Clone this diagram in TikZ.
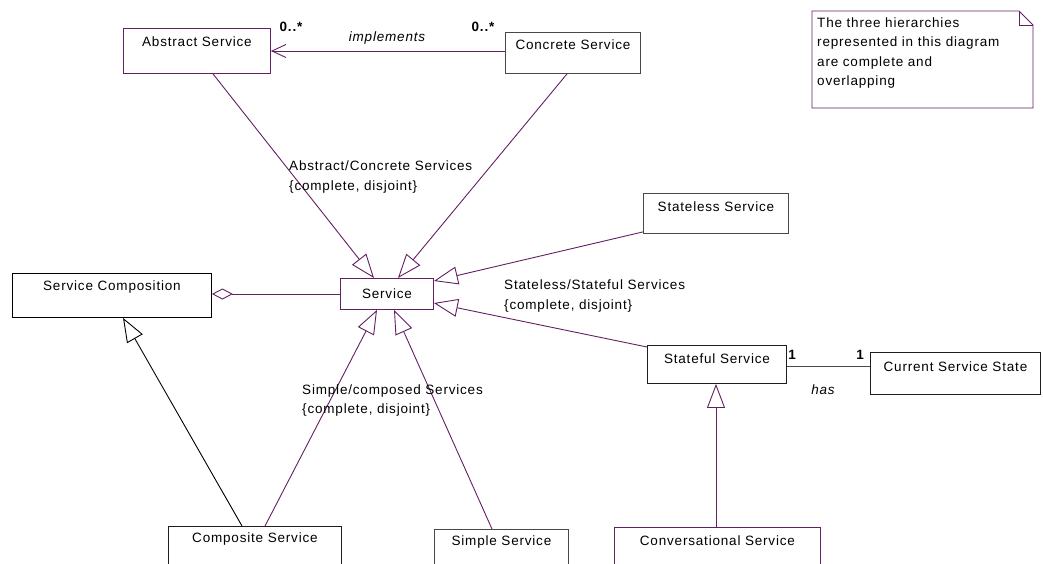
\documentclass[tikz,border=0pt]{standalone}
\usepackage{fontspec}
\setmainfont{Liberation Sans}[LetterSpace=6]
\usetikzlibrary{arrows.meta,calc}

\definecolor{umlpurple}{RGB}{98,32,98}
\definecolor{umlgray}{RGB}{72,72,72}
\definecolor{umldark}{RGB}{30,30,30}

\tikzset{
  classbox/.style={draw=#1, line width=0.9pt, inner sep=0pt, anchor=north west, fill=white},
  lbl/.style={font=\fontsize{13.5}{19.5}\selectfont, inner sep=0pt},
  gen/.style={draw=#1, line width=0.9pt, -{Triangle[open, length=24pt, width=18pt]}},
  gen/.default=umlpurple,
  assoc/.style={draw=#1, line width=0.9pt},
  assoc/.default=umlpurple
}

\begin{document}
\begin{tikzpicture}[x=1pt,y=-1pt]
\useasboundingbox (0,0) rectangle (1043,563);
\clip (0,0) rectangle (1043,563);

% class boxes (name compartment at the top, empty body)
\node[classbox=umlpurple, minimum width=147pt, minimum height=45pt] (abs) at (123,28) {};
\node[classbox=umlgray,   minimum width=135pt, minimum height=41pt] (con) at (505,32) {};
\node[classbox=umlgray,   minimum width=145pt, minimum height=40pt] (stl) at (643,193) {};
\node[classbox=black,     minimum width=199pt, minimum height=44pt] (sc)  at (12,273) {};
\node[classbox=umlpurple, minimum width=93pt,  minimum height=31pt] (svc) at (340,278) {};
\node[classbox=umldark,   minimum width=139pt, minimum height=38pt] (stf) at (647,345) {};
\node[classbox=umldark,   minimum width=170pt, minimum height=42pt] (cur) at (870,352) {};
\node[classbox=umldark,   minimum width=173pt, minimum height=50pt] (cmp) at (168,526) {};
\node[classbox=umlgray,   minimum width=134pt, minimum height=45pt] (smp) at (434,529) {};
\node[classbox=umlpurple, minimum width=206pt, minimum height=45pt] (cnv) at (614,527) {};

% class names
\node[lbl] (absT) at ($(abs.north)+(0,14)$) {Abstract Service};
\node[lbl] (conT) at ($(con.north)+(0,13)$) {Concrete Service};
\node[lbl] (stlT) at ($(stl.north)+(0,14)$) {Stateless Service};
\node[lbl] (scT)  at ($(sc.north)+(0,14)$)  {Service Composition};
\node[lbl] (svcT) at (svc.center) {Service};
\node[lbl] (stfT) at ($(stf.north)+(0,14)$) {Stateful Service};
\node[lbl] (curT) at ($(cur.north)+(0,15)$) {Current Service State};
\node[lbl] (cmpT) at ($(cmp.north)+(0,13)$) {Composite Service};
\node[lbl] (smpT) at ($(smp.north)+(0,13)$) {Simple Service};
\node[lbl] (cnvT) at ($(cnv.north)+(0,14)$) {Conversational Service};

% note with folded corner
\coordinate (nNW) at (812,11);
\coordinate (nSE) at (1033,108);
\draw[umlpurple, line width=0.9pt, fill=white]
  (nNW) -- (1019,11) -- (1033,25) -- (nSE) -- (812,108) -- cycle;
\draw[umlpurple, line width=0.9pt] (1019,11) -- (1019,25) -- (1033,25);
\node[lbl, anchor=west, align=left] (noteT) at (817,53)
  {The three hierarchies\\represented in this diagram\\are complete and\\overlapping};

% generalisations towards Service
\draw[gen] ($(abs.south west)+(90,0)$) -- ($(svc.north west)+(34,0)$);
\draw[gen] ($(con.south west)+(62,0)$) -- ($(svc.north west)+(58,0)$);
\draw[gen] ($(stl.south west)+(0,-2)$) -- ($(svc.north east)+(0,3)$);
\draw[gen] ($(stf.north west)+(0,2)$) -- ($(svc.north east)+(0,25)$);
\draw[gen] ($(cmp.north west)+(97,0)$) -- ($(svc.south west)+(37,0)$);
\draw[gen] ($(smp.north west)+(58,0)$) -- ($(svc.south west)+(54,0)$);

% other generalisations
\draw[gen=black] ($(cmp.north west)+(74,0)$) -- ($(sc.south west)+(111,0)$);
\draw[gen] ($(cnv.north west)+(102,0)$) -- ($(stf.south west)+(69,0)$);

% aggregation
\draw[assoc, {Diamond[open, length=21pt, width=11pt]}-]
  ($(sc.north east)+(0,21)$) -- ($(svc.north west)+(0,16)$);

% implements association
\draw[assoc, -{Straight Barb[length=14pt, width=13pt]}]
  ($(con.north west)+(0,19)$) -- ($(abs.north east)+(0,23)$);
\node[lbl, font=\fontsize{13.5}{19.5}\selectfont\itshape] (implT) at (387,38) {implements};
\node[lbl, font=\fontsize{13.5}{19.5}\selectfont\bfseries] (mAbs) at (291,27) {0..*};
\node[lbl, font=\fontsize{13.5}{19.5}\selectfont\bfseries] (mCon) at (483,27) {0..*};

% has association
\draw[assoc=umlgray] ($(stf.north east)+(0,21)$) -- ($(cur.north west)+(0,14)$);
\node[lbl, font=\fontsize{13.5}{19.5}\selectfont\bfseries] (mStf) at (792,355) {1};
\node[lbl, font=\fontsize{13.5}{19.5}\selectfont\bfseries] (mCur) at (860,355) {1};
\node[lbl, font=\fontsize{13.5}{19.5}\selectfont\itshape] (hasT) at (823,390) {has};

% hierarchy labels
\node[lbl, anchor=west, align=left] (acL) at (289,177)
  {Abstract/Concrete Services\\\{complete, disjoint\}};
\node[lbl, anchor=west, align=left] (ssL) at (504,296)
  {Stateless/Stateful Services\\\{complete, disjoint\}};
\node[lbl, anchor=west, align=left] (scL) at (302,400.5)
  {Simple/composed Services\\\{complete, disjoint\}};
\end{tikzpicture}
\end{document}
